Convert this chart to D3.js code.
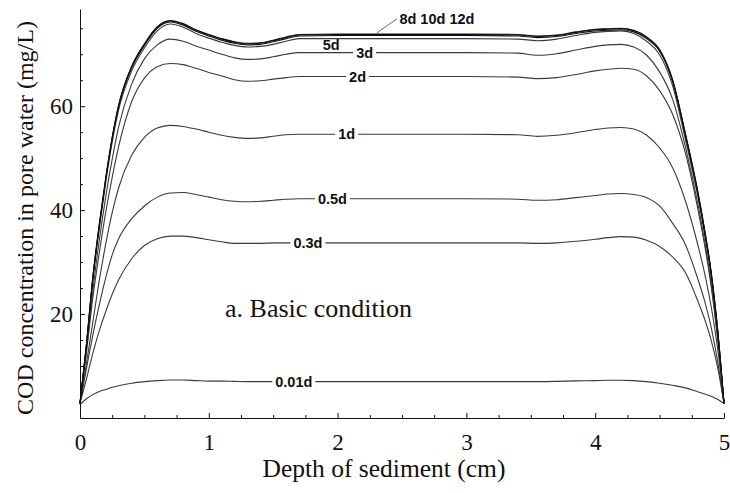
<!DOCTYPE html>
<html><head><meta charset="utf-8">
<script src="https://cdn.jsdelivr.net/npm/d3@7"></script>
<style>body{margin:0;background:#fff}</style>
</head><body><svg id="c" width="730" height="493"></svg>
<script>
// ---- data ----
const depth = [0,0.05,0.1,0.15,0.2,0.25,0.3,0.4,0.5,0.6,0.7,0.8,0.9,1.0,1.1,1.2,1.3,1.4,1.5,1.6,1.7,2.0,2.5,3.0,3.4,3.55,3.7,3.85,4.0,4.1,4.2,4.3,4.4,4.5,4.6,4.7,4.8,4.85,4.9,4.95,5.0];
const c12d = [2.8,14.2,27.2,37.3,46.2,54.0,60.2,67.6,72.0,75.3,76.5,75.9,74.7,73.8,73.0,72.4,72.1,72.2,72.7,73.3,73.8,73.9,73.9,73.9,73.8,73.5,73.7,74.3,74.8,74.9,75.0,74.6,73.3,70.9,65.2,54.8,43.2,36.2,28.2,17.2,2.8];
const c10d = [2.8,14.1,27.1,37.2,46.1,53.9,60.1,67.5,71.9,75.2,76.4,75.8,74.6,73.7,72.9,72.3,72.0,72.1,72.6,73.2,73.7,73.8,73.8,73.8,73.7,73.4,73.6,74.2,74.7,74.8,74.9,74.5,73.2,70.8,65.0,54.6,43.0,36.0,28.0,17.1,2.8];
const c8d  = [2.8,14.0,26.9,37.0,45.9,53.7,59.9,67.3,71.7,75.0,76.2,75.6,74.4,73.5,72.7,72.1,71.8,71.9,72.4,73.0,73.5,73.6,73.6,73.6,73.5,73.2,73.4,74.0,74.5,74.6,74.7,74.3,73.0,70.6,64.8,54.4,42.8,35.8,27.8,16.9,2.8];
const c5d  = [2.8,13.7,26.5,36.5,45.4,53.1,59.3,66.7,71.2,74.5,75.8,75.2,74.0,73.1,72.3,71.7,71.4,71.5,71.9,72.5,73.0,73.0,73.0,73.0,72.9,72.6,72.9,73.6,74.2,74.4,74.5,74.0,72.5,69.9,64.0,53.6,42.2,35.3,27.4,16.6,2.8];
const c3d  = [2.8,13.0,24.6,34.2,42.6,49.8,56.0,64.2,69.1,71.8,72.9,72.5,71.6,70.8,70.0,69.3,69.0,69.1,69.5,70.0,70.3,70.3,70.3,70.3,70.2,69.8,70.1,70.8,71.5,71.8,71.9,71.4,69.8,66.6,61.4,52.2,40.8,34.0,26.0,15.8,2.8];
const c2d  = [2.8,12.6,23.2,31.8,39.6,46.3,52.2,60.8,65.4,67.6,68.2,68.0,67.3,66.5,65.8,65.1,64.8,64.9,65.2,65.5,65.7,65.7,65.7,65.7,65.6,65.3,65.5,66.1,66.8,67.1,67.3,67.1,65.8,63.0,58.5,51.0,39.8,33.2,25.4,15.4,2.8];
const c1d  = [2.8,10.5,18.5,26.5,33.5,39.5,44.3,50.5,54.0,55.8,56.3,56.1,55.6,55.0,54.4,54.0,53.8,53.9,54.2,54.5,54.6,54.6,54.6,54.6,54.5,54.2,54.4,54.9,55.5,55.8,55.9,55.6,54.4,52.0,48.2,41.8,33.0,27.8,21.5,13.5,2.8];
const c05d = [2.8,9.5,16.0,21.8,27.0,31.4,34.5,38.3,40.8,42.5,43.3,43.4,43.0,42.5,42.0,41.7,41.6,41.7,41.9,42.1,42.2,42.2,42.2,42.2,42.1,41.9,42.0,42.4,42.8,43.1,43.2,43.0,42.4,40.8,37.5,33.4,26.5,22.5,17.5,11.0,2.8];
const c03d = [2.8,7.5,12.5,16.8,20.5,23.8,26.6,30.6,33.2,34.5,35.0,35.0,34.7,34.3,33.9,33.6,33.6,33.6,33.7,33.7,33.7,33.7,33.7,33.7,33.7,33.6,33.7,34.0,34.4,34.7,34.9,34.8,34.2,33.0,31.0,28.0,22.3,19.0,15.0,9.8,2.8];
const c001d= [2.6,3.7,4.5,5.1,5.5,5.9,6.2,6.7,7.0,7.2,7.3,7.3,7.2,7.1,7.1,7.05,7.0,7.0,7.0,7.0,7.0,7.0,7.0,7.0,7.0,7.0,7.05,7.15,7.2,7.25,7.25,7.2,7.0,6.7,6.3,5.8,5.0,4.6,4.2,3.6,2.8];
const seriesNames  = ["0.01d","0.3d","0.5d","1d","2d","3d","5d","8d","10d","12d"];
const seriesValues = [c001d,c03d,c05d,c1d,c2d,c3d,c5d,c8d,c10d,c12d];
const xMajor = [0,1,2,3,4,5];
const xMinor = [0.25,0.5,0.75,1.25,1.5,1.75,2.25,2.5,2.75,3.25,3.5,3.75,4.25,4.5,4.75];
const yMajor = [20,40,60];
const yMinor = [5,10,15,25,30,35,45,50,55,65,70,75];
// contour labels: text, depth position, value position (first six sit in a gap of their line)
const labelText  = ["0.01d","0.3d","0.5d","1d","2d","3d","5d","8d 10d 12d"];
const labelDepth = [1.66,1.77,1.96,2.07,2.155,2.21,1.95,2.48];
const labelValue = [7.0,33.7,42.2,54.6,65.7,70.3,71.9,76.9];
const leaderDepth = [2.305,2.46];
const leaderValue = [74.1,76.8];

// ---- chart ----
const svg = d3.select("#c");
const x = d3.scaleLinear().domain([0,5]).range([80,724]);
const y = d3.scaleLinear().domain([0,78.7]).range([418,9]);
const serif = "'Liberation Serif','Times New Roman',serif";
const sans = "'Liberation Sans',Arial,sans-serif";

const line = d3.line().x((d,i)=>x(depth[i])).y(d=>y(d)).curve(d3.curveMonotoneX);
svg.append("g").selectAll("path").data(seriesValues).join("path")
  .attr("d", d=>line(d)).attr("fill","none")
  .attr("stroke", (d,i)=> i>=7 ? "#111" : "#3a3a3a")
  .attr("stroke-width", 1.1);

// labels
const lg = svg.append("g");
labelText.forEach((t,i)=>{
  const tx = lg.append("text").attr("x", x(labelDepth[i])).attr("y", y(labelValue[i]))
    .attr("text-anchor", i===7 ? "start" : "middle").attr("dy","0.36em")
    .attr("font-family", sans).attr("font-weight","bold").attr("font-size", 14.5)
    .attr("fill","#111").text(t);
  if (i < 6) {
    const b = tx.node().getBBox();
    lg.insert("rect", "text").attr("x", b.x-3).attr("y", y(labelValue[i])-3)
      .attr("width", b.width+6).attr("height", 6).attr("fill","#fff");
  }
});
lg.append("line").attr("x1", x(leaderDepth[0])).attr("y1", y(leaderValue[0]))
  .attr("x2", x(leaderDepth[1])).attr("y2", y(leaderValue[1]))
  .attr("stroke","#444").attr("stroke-width",0.8);

// axes
const ax = svg.append("g").attr("transform","translate(0,418)");
ax.call(d3.axisBottom(x).tickValues(xMajor).tickSizeInner(-5).tickSizeOuter(0).tickPadding(16).tickFormat(d3.format("d")));
ax.append("g").call(d3.axisBottom(x).tickValues(xMinor).tickSizeInner(-3).tickSizeOuter(0).tickFormat(""))
  .select(".domain").remove();
const ay = svg.append("g").attr("transform","translate(80,0)");
ay.call(d3.axisLeft(y).tickValues(yMajor).tickSizeInner(-5).tickSizeOuter(0).tickPadding(7).tickFormat(d3.format("d")));
ay.append("g").call(d3.axisLeft(y).tickValues(yMinor).tickSizeInner(-3).tickSizeOuter(0).tickFormat(""))
  .select(".domain").remove();
svg.selectAll(".tick text").attr("font-family", serif).attr("font-size", 23).attr("fill","#111");
svg.selectAll(".domain, .tick line").attr("stroke","#111");

// titles
svg.append("text").attr("x", 384).attr("y", 477).attr("text-anchor","middle")
  .attr("font-family", serif).attr("font-size", 25.5).attr("fill","#111").text("Depth of sediment (cm)");
svg.append("text").attr("transform","translate(33,218) rotate(-90)").attr("text-anchor","middle")
  .attr("font-family", serif).attr("font-size", 24).attr("fill","#111").text("COD concentration in pore water (mg/L)");
svg.append("text").attr("x", 225).attr("y", 317)
  .attr("font-family", serif).attr("font-size", 26).attr("fill","#111").text("a. Basic condition");
</script></body></html>
